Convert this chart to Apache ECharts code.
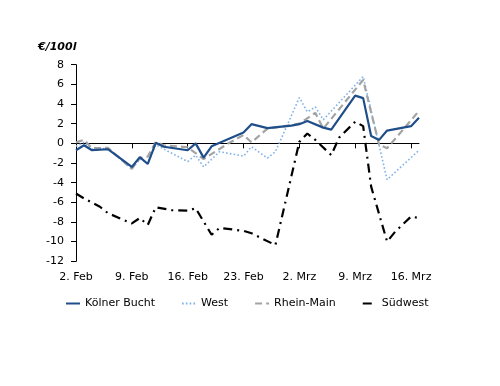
<!DOCTYPE html>
<html>
<head>
<meta charset="utf-8">
<script src="https://cdn.jsdelivr.net/npm/echarts@6/dist/echarts.min.js"></script>
<style>
html,body{margin:0;padding:0;background:#fff;}
#c{width:500px;height:386px;}
</style>
</head>
<body>
<div id="c"></div>
<script>
// x = days since 2. Feb
const tickDays = [0, 7, 14, 21, 28, 35, 42];
const tickLabels = ["2. Feb", "9. Feb", "16. Feb", "23. Feb", "2. Mrz", "9. Mrz", "16. Mrz"];
const yTicks = [-12, -10, -8, -6, -4, -2, 0, 2, 4, 6, 8];
const seriesNames = ["Kölner Bucht", "West", "Rhein-Main", "Südwest"];

const koelnDays = [0, 1, 2, 4, 7, 8, 9, 10, 11, 14, 15, 16, 17, 21, 22, 24, 27, 28, 29, 31, 32, 35, 36, 37, 38, 39, 42, 43];
const koelnVals = [-0.7, -0.2, -0.7, -0.6, -2.4, -1.4, -2.1, 0.05, -0.35, -0.7, 0, -1.45, -0.3, 1.1, 1.95, 1.55, 1.8, 1.95, 2.27, 1.6, 1.4, 4.85, 4.6, 0.75, 0.35, 1.3, 1.75, 2.6];

const westDays = [0, 1, 2, 4, 7, 8, 9, 10, 12, 14, 15, 16, 18, 21, 22, 24, 25, 28, 29, 30, 31, 36, 39, 43];
const westVals = [-0.3, 0.1, -0.6, -0.5, -2.6, -1.6, -2.0, -0.15, -1.0, -1.85, -1.2, -2.4, -0.85, -1.3, -0.35, -1.5, -0.85, 4.65, 3.2, 3.7, 2.4, 6.8, -3.7, -0.7];

const rmDays = [0, 1, 2, 4, 7, 8, 9, 10, 11, 14, 16, 19, 21, 22, 24, 27, 28, 30, 31, 36, 38, 39, 43];
const rmVals = [0.1, 0.35, -0.5, -0.45, -2.6, -1.5, -1.35, 0.15, -0.2, -0.4, -1.6, -0.05, 0.85, 0.1, 1.5, 1.85, 2.0, 3.1, 1.5, 6.45, -0.15, -0.5, 3.3];

const swDays = [0, 1, 3, 4, 7, 8, 9, 10, 12, 14, 15, 17, 18, 21, 22, 23, 25, 28, 29, 30, 32, 33, 35, 36, 37, 39, 40, 42, 43];
const swVals = [-5.1, -5.6, -6.45, -7.1, -8.15, -7.6, -8.3, -6.5, -6.8, -6.85, -6.6, -9.3, -8.6, -8.9, -9.15, -9.55, -10.35, 0.15, 1.0, 0.35, -1.2, 0.6, 2.2, 1.75, -4.4, -10.0, -9.0, -7.45, -7.6];

const pairs = (d, v) => d.map((x, i) => [x, v[i]]);

const FONT = "DejaVu Sans";
const chart = echarts.init(document.getElementById('c'), null, {renderer: 'canvas'});

chart.setOption({
  animation: false,
  backgroundColor: '#fff',
  textStyle: {fontFamily: FONT},
  grid: {left: 76, right: 81, top: 64.7, bottom: 124.7, containLabel: false},
  graphic: [{
    type: 'text', left: 38, top: 42,
    style: {text: '€/100l', fontFamily: FONT, fontSize: 11, fontWeight: 'bold', fontStyle: 'italic', fill: '#000'}
  }],
  legend: {
    left: 60, top: 293, itemWidth: 14, itemHeight: 10, itemGap: 26,
    itemStyle: {opacity: 0},
    textStyle: {fontFamily: FONT, fontSize: 11, color: '#000'},
    data: seriesNames
  },
  xAxis: [{
    type: 'value', min: 0, max: 43, interval: 7,
    axisLine: {onZero: true, lineStyle: {color: '#000', width: 1}},
    axisTick: {show: true, inside: false, length: 5, lineStyle: {color: '#000'}, customValues: tickDays},
    axisLabel: {show: false},
    splitLine: {show: false}
  }, {
    type: 'value', min: 0, max: 43, interval: 7, position: 'bottom',
    axisLine: {show: false, onZero: false},
    axisTick: {show: false},
    axisLabel: {
      show: true, margin: 10, fontFamily: FONT, fontSize: 11, color: '#000',
      customValues: tickDays,
      formatter: v => { const i = tickDays.indexOf(v); return i >= 0 ? tickLabels[i] : ''; }
    },
    splitLine: {show: false}
  }],
  yAxis: {
    type: 'value', min: yTicks[0], max: yTicks[yTicks.length - 1], interval: 2,
    axisLine: {show: true, lineStyle: {color: '#000', width: 1}},
    axisTick: {show: true, inside: false, length: 5, lineStyle: {color: '#000'}},
    axisLabel: {margin: 12, fontFamily: FONT, fontSize: 11, color: '#000'},
    splitLine: {show: false}
  },
  series: [
    {name: seriesNames[0], type: 'line', xAxisIndex: 0, data: pairs(koelnDays, koelnVals), symbol: 'none', z: 5,
     lineStyle: {color: '#1F4E8A', width: 2.2, type: 'solid'}, itemStyle: {color: '#1F4E8A'}},
    {name: seriesNames[1], type: 'line', xAxisIndex: 0, data: pairs(westDays, westVals), symbol: 'none', z: 3,
     lineStyle: {color: '#7FB2E8', width: 1.6, type: [1.6, 2.2]}, itemStyle: {color: '#7FB2E8'}},
    {name: seriesNames[2], type: 'line', xAxisIndex: 0, data: pairs(rmDays, rmVals), symbol: 'none', z: 4,
     lineStyle: {color: '#A3A3A3', width: 2.2, type: [7, 4]}, itemStyle: {color: '#A3A3A3'}},
    {name: seriesNames[3], type: 'line', xAxisIndex: 0, data: pairs(swDays, swVals), symbol: 'none', z: 2,
     lineStyle: {color: '#000', width: 2.2, type: [9, 5, 2, 5]}, itemStyle: {color: '#000'}}
  ]
});
</script>
</body>
</html>
